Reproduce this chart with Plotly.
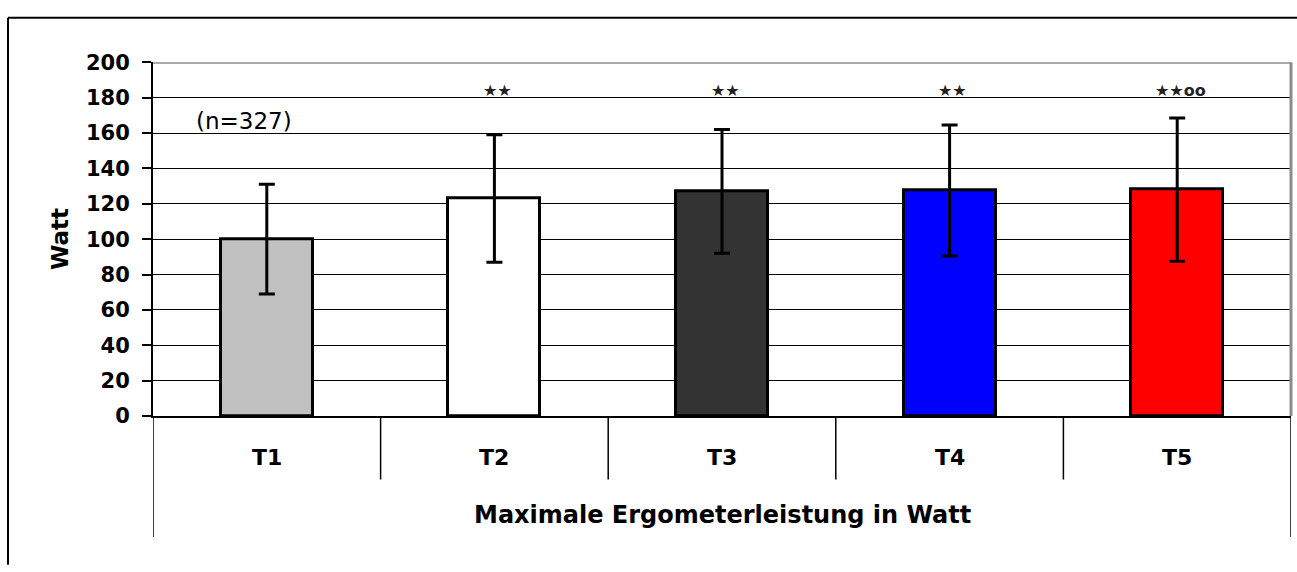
import plotly.graph_objects as go

# Maximale Ergometerleistung (Mittelwert ± SD) zu fünf Messzeitpunkten
categories = ["T1", "T2", "T3", "T4", "T5"]
mean_watt = [100, 123, 127, 127.5, 128]
sd_watt = [31, 36, 35, 37, 40.5]
bar_colors = ["#C0C0C0", "#FFFFFF", "#333333", "#0000FF", "#FF0000"]
sig_marks = ["", "★★", "★★", "★★", "★★oo"]
sig_level = 184
n_label = "(n=327)"
n_label_level = 167
y_ticks = list(range(0, 201, 20))

W, H = 1297, 572
X0, X1 = 153, 1291          # plot area, px
Y_TOP, Y_BOT = 52.5, 421.7  # y=200 and y=0, px


def px(xp):
    return xp / W


def py(yp):
    return (H - yp) / H


FONT = "DejaVu Sans, Verdana, sans-serif"

fig = go.Figure()
fig.add_trace(go.Bar(
    x=categories,
    y=mean_watt,
    width=0.405,
    marker=dict(color=bar_colors, line=dict(color="black", width=3)),
    error_y=dict(type="data", array=sd_watt, visible=True,
                 color="black", thickness=3, width=8),
    hoverinfo="skip",
))

annotations = []
# category labels below the axis
for c in categories:
    annotations.append(dict(x=c, xref="x", y=py(465), yref="paper",
                            xanchor="center", yanchor="middle",
                            text=c, showarrow=False,
                            font=dict(family=FONT, size=22, color="black", weight="bold")))
# significance marks
for c, m in zip(categories, sig_marks):
    if m:
        annotations.append(dict(x=c, xref="x", y=sig_level, yref="y",
                                xanchor="center", yanchor="middle",
                                text=m, showarrow=False, xshift=3,
                                font=dict(family=FONT, size=16, color="#222222", weight="bold")))
annotations.append(dict(x=categories[0], xref="x", y=n_label_level, yref="y",
                        xanchor="center", yanchor="middle",
                        text=n_label, showarrow=False, xshift=-23,
                        font=dict(family=FONT, size=23, color="black")))
annotations.append(dict(x=px((X0 + X1) / 2), xref="paper", y=py(525), yref="paper",
                        xanchor="center", yanchor="middle",
                        text="Maximale Ergometerleistung in Watt", showarrow=False,
                        font=dict(family=FONT, size=24, color="black", weight="bold")))
annotations.append(dict(x=px(60), xref="paper", y=py(237), yref="paper",
                        xanchor="center", yanchor="middle",
                        text="Watt", textangle=-90, showarrow=False,
                        font=dict(family=FONT, size=23, color="black", weight="bold")))

shapes = []
# outer frame (left and top edges)
shapes.append(dict(type="line", xref="paper", yref="paper",
                   x0=px(8), x1=px(8), y0=py(6), y1=py(H + 5),
                   line=dict(color="black", width=2)))
shapes.append(dict(type="line", xref="paper", yref="paper",
                   x0=px(8), x1=px(W + 5), y0=py(6), y1=py(6),
                   line=dict(color="black", width=2)))
# grey plot-area border (top and right)
shapes.append(dict(type="line", xref="paper", yref="y",
                   x0=px(X0), x1=px(X1), y0=200, y1=200,
                   line=dict(color="#8C8C8C", width=3)))
shapes.append(dict(type="line", xref="paper", yref="paper",
                   x0=px(X1), x1=px(X1), y0=py(Y_TOP), y1=py(Y_BOT),
                   line=dict(color="#8C8C8C", width=3)))
# category table below the axis
for i in range(1, len(categories)):
    shapes.append(dict(type="line", xref="x", yref="paper",
                       x0=i - 0.5, x1=i - 0.5, y0=py(Y_BOT), y1=py(488),
                       line=dict(color="black", width=1.5)))
for xe in (-0.5, len(categories) - 0.5):
    shapes.append(dict(type="line", xref="x", yref="paper",
                       x0=xe, x1=xe, y0=py(Y_BOT), y1=py(548),
                       line=dict(color="black", width=1.5)))

fig.update_layout(
    width=W, height=H,
    margin=dict(l=0, r=0, t=0, b=0),
    paper_bgcolor="white", plot_bgcolor="white",
    showlegend=False,
    bargap=0,
    xaxis=dict(domain=[px(X0), px(X1)], range=[-0.5, 4.5],
               showticklabels=False, showgrid=False, zeroline=False,
               showline=True, linecolor="black", linewidth=2, ticks=""),
    yaxis=dict(domain=[py(Y_BOT), py(Y_TOP)], range=[0, 200],
               tickvals=y_ticks, ticks="outside", ticklen=9, tickwidth=1.5,
               tickcolor="black", showline=True, linecolor="black", linewidth=2,
               showgrid=True, gridcolor="black", gridwidth=1, zeroline=False,
               ticklabelstandoff=8,
               tickfont=dict(family=FONT, size=21, color="black", weight="bold")),
    annotations=annotations,
    shapes=shapes,
)

fig.write_html("out.html")
